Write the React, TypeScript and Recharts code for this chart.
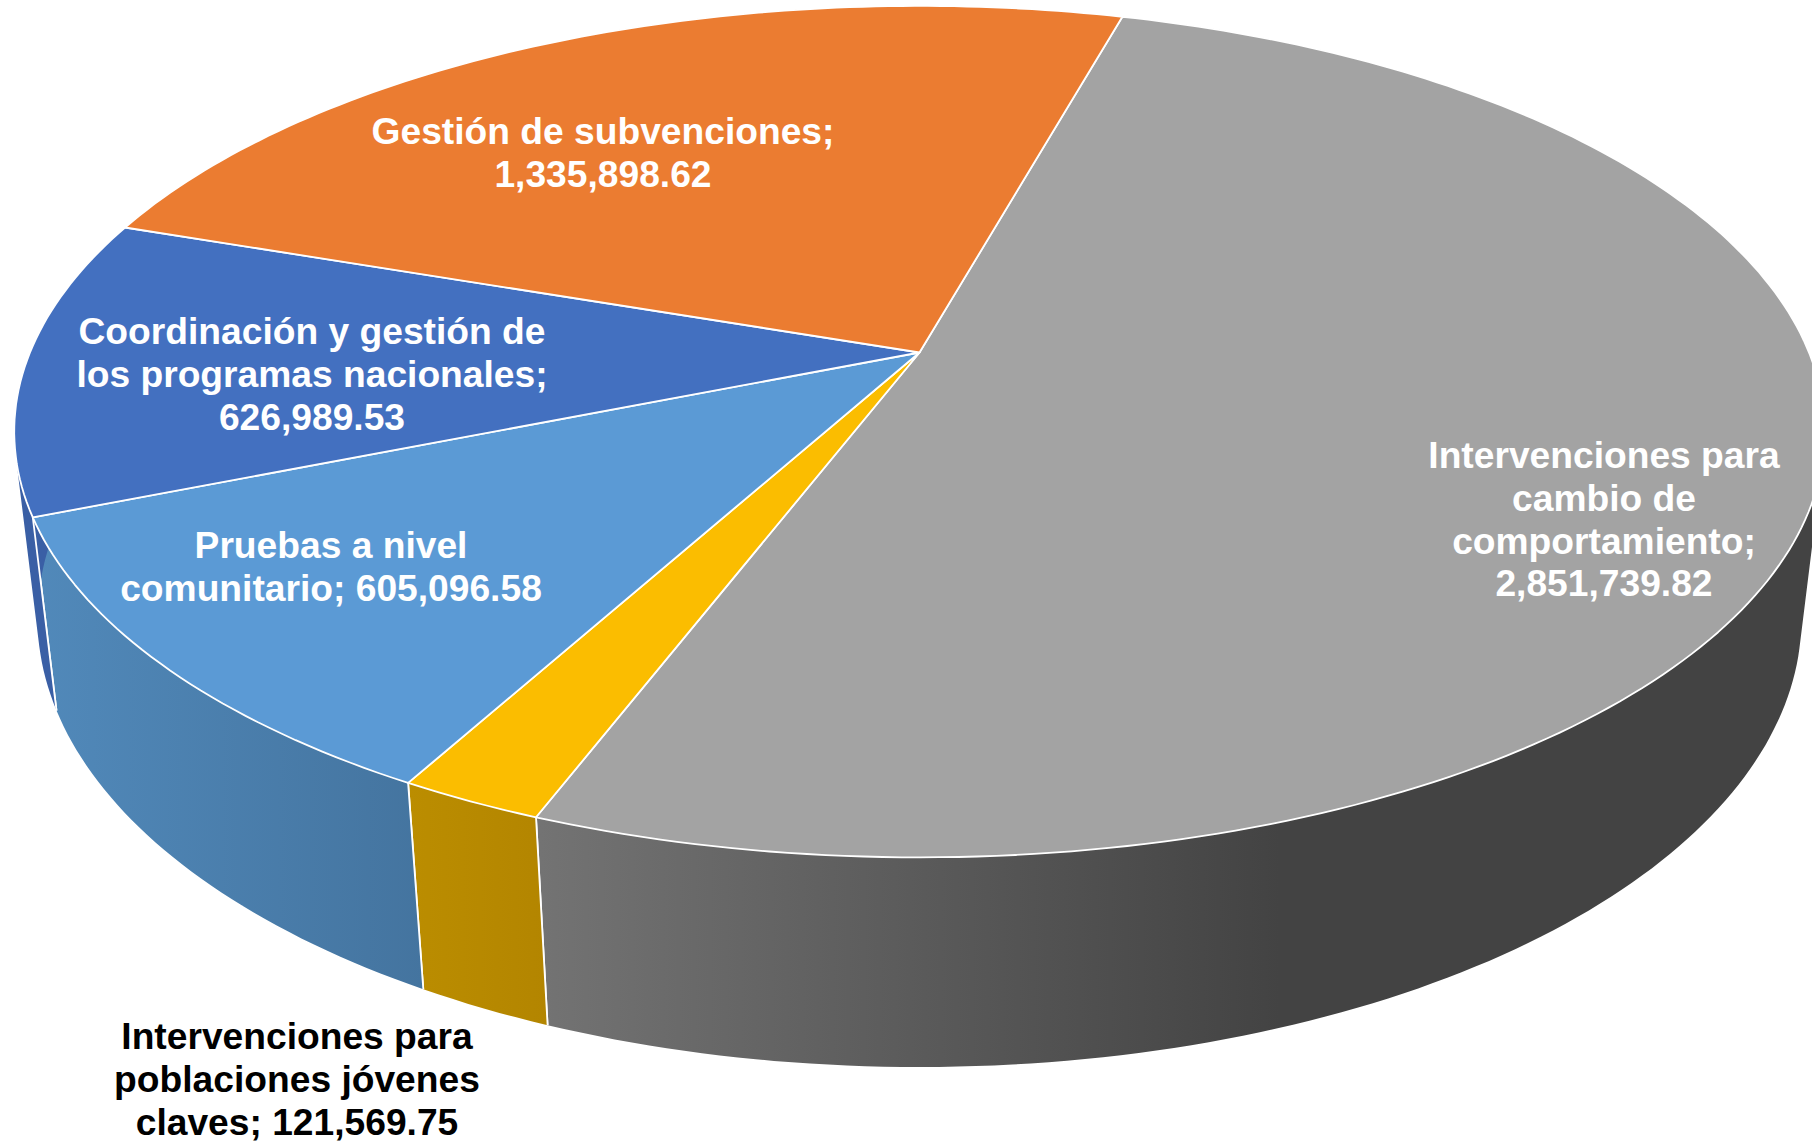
import { PieChart, Pie, Cell } from "recharts";

const categories = [
  "Intervenciones para cambio de comportamiento",
  "Intervenciones para poblaciones jóvenes claves",
  "Pruebas a nivel comunitario",
  "Coordinación y gestión de los programas nacionales",
  "Gestión de subvenciones",
];
const values = [2851739.82, 121569.75, 605096.58, 626989.53, 1335898.62];
const topColors = ["#a3a3a3", "#fbbd00", "#5b9ad5", "#4370c0", "#eb7c31"];
const wallFills = ["url(#wallGray)", "url(#wallYellow)", "url(#wallBlue)", "#3a5fa5", "#ae5a21"];
const labelLines = [
  ["Intervenciones para", "cambio de", "comportamiento;", "2,851,739.82"],
  ["Intervenciones para", "poblaciones jóvenes", "claves; 121,569.75"],
  ["Pruebas a nivel", "comunitario; 605,096.58"],
  ["Coordinación y gestión de", "los programas nacionales;", "626,989.53"],
  ["Gestión de subvenciones;", "1,335,898.62"],
];
const labelColors = ["#ffffff", "#000000", "#ffffff", "#ffffff", "#ffffff"];
const labelSpots = [
  { x: 1604, y: 468 },
  { x: 297, y: 1049 },
  { x: 331, y: 558 },
  { x: 312, y: 344 },
  { x: 603, y: 144 },
];

const chartData = categories.map((name, i) => ({ name, value: values[i] }));

// tilt of the disc, fitted on the slice corners of the picture
const SPREAD_X = 889.5;
const SPREAD_Y = 411;
const TILT = 0.1859;
const DEPTH = 189;
const DEPTH_TILT = 0.0256;
const LINE_HEIGHT = 42.8;

const project = (cx: number, cy: number, angle: number, z: number) => {
  const rad = (angle * Math.PI) / 180;
  const u = Math.cos(rad);
  const v = -Math.sin(rad);
  const w = 1 - TILT * v + DEPTH_TILT * z;
  return [cx + (SPREAD_X * u) / w, cy + (SPREAD_Y * v + DEPTH * z) / w];
};

const arcPoints = (cx: number, cy: number, from: number, to: number, z: number) => {
  const steps = Math.max(2, Math.ceil(Math.abs(to - from)));
  const points: number[][] = [];
  for (let i = 0; i <= steps; i++) {
    points.push(project(cx, cy, from + ((to - from) * i) / steps, z));
  }
  return points;
};

const toPath = (points: number[][]) =>
  points.map((p, i) => `${i === 0 ? "M" : "L"}${p[0].toFixed(1)},${p[1].toFixed(1)}`).join(" ");

const area = (pts: number[][]) =>
  pts.reduce((sum, p, i) => {
    const q = pts[(i + 1) % pts.length];
    return sum + p[0] * q[1] - q[0] * p[1];
  }, 0);

const TopFace = (props: any) => {
  const { cx, cy, startAngle, endAngle, fill } = props;
  const rim = arcPoints(cx, cy, startAngle, endAngle, 0);
  return <path d={`M${cx},${cy} ${toPath(rim).replace("M", "L")} Z`} fill={fill} stroke="#ffffff" strokeWidth={1.8} strokeLinejoin="round" />;
};

const Wall = (props: any) => {
  const { cx, cy, startAngle, endAngle, fill } = props;
  const top = arcPoints(cx, cy, startAngle, endAngle, 0);
  const bottom = arcPoints(cx, cy, startAngle, endAngle, 1);
  // strips all wound the same way so they add up where the wall folds at the sides
  const strips = top.slice(1).map((p, i) => {
    const quad = [top[i], p, bottom[i + 1], bottom[i]];
    return `${toPath(area(quad) < 0 ? [...quad].reverse() : quad)} Z`;
  });
  const edge = (angle: number) => toPath([project(cx, cy, angle, 0), project(cx, cy, angle, 1)]);
  return (
    <g>
      <path d={strips.join(" ")} fill={fill} fillRule="nonzero" />
      <path d={`${edge(startAngle)} ${edge(endAngle)}`} fill="none" stroke="#ffffff" strokeWidth={1.8} />
    </g>
  );
};

const renderLabel = (props: any) => {
  const spot = labelSpots[props.index];
  return (
    <text
      x={spot.x}
      y={spot.y}
      textAnchor="middle"
      fill={labelColors[props.index]}
      fontFamily="'Liberation Sans', Arial, sans-serif"
      fontWeight={700}
      fontSize={37.2}
    >
      {labelLines[props.index].map((line, i) => (
        <tspan key={line} x={spot.x} dy={i === 0 ? 0 : LINE_HEIGHT}>
          {line}
        </tspan>
      ))}
    </text>
  );
};

export default function App() {
  return (
    <div style={{ position: "absolute", left: 0, top: 0, width: 1812, height: 1142, background: "#ffffff", overflow: "hidden" }}>
      <PieChart width={1812} height={1142} margin={{ top: 0, right: 0, bottom: 0, left: 0 }}>
        <defs>
          <linearGradient id="wallGray" gradientUnits="userSpaceOnUse" x1="540" y1="0" x2="1280" y2="0">
            <stop offset="0" stopColor="#737373" />
            <stop offset="1" stopColor="#434343" />
          </linearGradient>
          <linearGradient id="wallYellow" gradientUnits="userSpaceOnUse" x1="410" y1="0" x2="550" y2="0">
            <stop offset="0" stopColor="#bb8d00" />
            <stop offset="1" stopColor="#b38500" />
          </linearGradient>
          <linearGradient id="wallBlue" gradientUnits="userSpaceOnUse" x1="35" y1="0" x2="425" y2="0">
            <stop offset="0" stopColor="#5189ba" />
            <stop offset="1" stopColor="#44749f" />
          </linearGradient>
        </defs>
        <Pie
          data={chartData}
          dataKey="value"
          nameKey="name"
          cx={919.5}
          cy={352.5}
          outerRadius={800}
          startAngle={74.4}
          endAngle={-285.6}
          shape={Wall}
          isAnimationActive={false}
        >
          {chartData.map((d, i) => (
            <Cell key={d.name} fill={wallFills[i]} />
          ))}
        </Pie>
        <Pie
          data={chartData}
          dataKey="value"
          nameKey="name"
          cx={919.5}
          cy={352.5}
          outerRadius={800}
          startAngle={74.4}
          endAngle={-285.6}
          shape={TopFace}
          label={renderLabel}
          labelLine={false}
          isAnimationActive={false}
        >
          {chartData.map((d, i) => (
            <Cell key={d.name} fill={topColors[i]} />
          ))}
        </Pie>
      </PieChart>
    </div>
  );
}
